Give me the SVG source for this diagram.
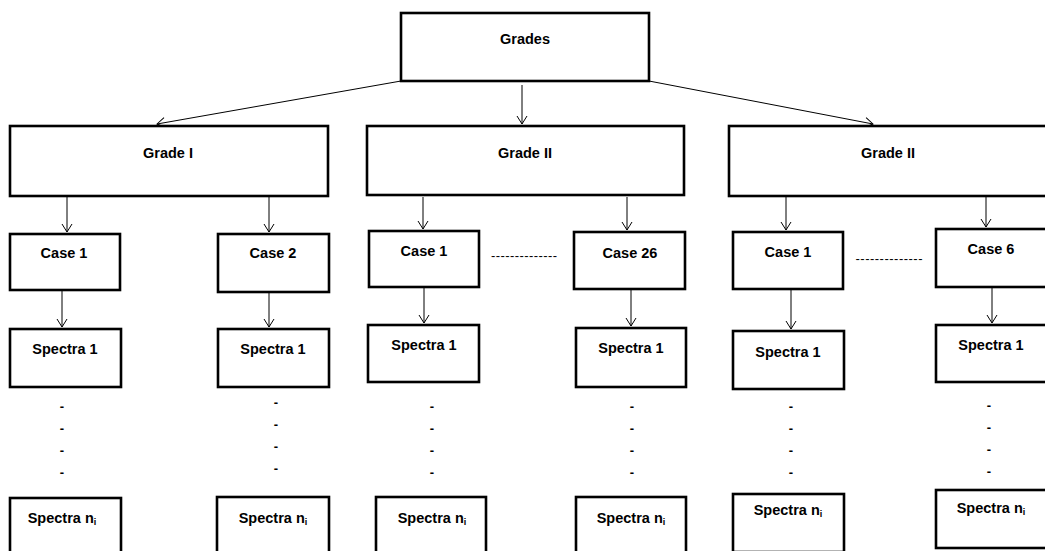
<svg xmlns="http://www.w3.org/2000/svg" width="1045" height="551" viewBox="0 0 1045 551">
<style>
.box{fill:#fff;stroke:#000;stroke-width:2.6}
.t{font-family:"Liberation Sans",Arial,sans-serif;font-weight:bold;font-size:14.5px;fill:#000;text-anchor:middle}
.sub{font-size:9px}
.d{font-family:"Liberation Sans",Arial,sans-serif;font-weight:bold;font-size:13px;fill:#000;text-anchor:middle}
.s{font-family:"Liberation Sans",Arial,sans-serif;font-size:13px;fill:#000;text-anchor:middle}
.c{fill:none;stroke:#000;stroke-width:1}
</style>
<defs>
<marker id="ah" viewBox="0 0 10 10" refX="10" refY="5" markerWidth="10" markerHeight="10" markerUnits="userSpaceOnUse" orient="auto" overflow="visible">
<path d="M2,0 L10,5 L2,10" fill="none" stroke="#000" stroke-width="1"/>
</marker>
</defs>
<rect width="1045" height="551" fill="#fff"/>
<g id="connectors">
<line class="c" x1="401" y1="81" x2="157" y2="124" marker-end="url(#ah)"/>
<line class="c" x1="522" y1="85" x2="522" y2="124" marker-end="url(#ah)"/>
<line class="c" x1="649" y1="81" x2="873" y2="124" marker-end="url(#ah)"/>
<line class="c" x1="67" y1="197" x2="67" y2="232" marker-end="url(#ah)"/>
<line class="c" x1="269" y1="197" x2="269" y2="232" marker-end="url(#ah)"/>
<line class="c" x1="423" y1="197" x2="423" y2="229" marker-end="url(#ah)"/>
<line class="c" x1="627" y1="197" x2="627" y2="230" marker-end="url(#ah)"/>
<line class="c" x1="786" y1="197" x2="786" y2="230" marker-end="url(#ah)"/>
<line class="c" x1="986" y1="197" x2="986" y2="227" marker-end="url(#ah)"/>
<line class="c" x1="62" y1="290" x2="62" y2="327" marker-end="url(#ah)"/>
<line class="c" x1="269" y1="292" x2="269" y2="327" marker-end="url(#ah)"/>
<line class="c" x1="424" y1="287" x2="424" y2="323" marker-end="url(#ah)"/>
<line class="c" x1="631" y1="289" x2="631" y2="326" marker-end="url(#ah)"/>
<line class="c" x1="791" y1="289" x2="791" y2="329" marker-end="url(#ah)"/>
<line class="c" x1="992" y1="287" x2="992" y2="323" marker-end="url(#ah)"/>
</g>
<g id="grades"><rect class="box" x="401" y="13" width="248" height="68"/><text class="t" x="525" y="44">Grades</text></g>
<g id="grade1"><rect class="box" x="10" y="126" width="318" height="70"/><text class="t" x="168" y="158">Grade I</text></g>
<g id="grade2a"><rect class="box" x="367" y="126" width="317" height="69"/><text class="t" x="525" y="158">Grade II</text></g>
<g id="grade2b"><rect class="box" x="729" y="126" width="320" height="70"/><text class="t" x="888" y="158">Grade II</text></g>

<g id="case1a"><rect class="box" x="10" y="234" width="110" height="56"/><text class="t" x="64" y="258">Case 1</text></g>
<g id="case2"><rect class="box" x="218" y="234" width="111" height="58"/><text class="t" x="273" y="258">Case 2</text></g>
<g id="case1b"><rect class="box" x="369" y="231" width="110" height="56"/><text class="t" x="424" y="256">Case 1</text></g>
<g id="case26"><rect class="box" x="574" y="232" width="111" height="57"/><text class="t" x="630" y="258">Case 26</text></g>
<g id="case1c"><rect class="box" x="733" y="232" width="110" height="57"/><text class="t" x="788" y="257">Case 1</text></g>
<g id="case6"><rect class="box" x="936" y="229" width="112" height="58"/><text class="t" x="991" y="254">Case 6</text></g>

<g id="sep1"><text class="s" x="524" y="260" textLength="66" lengthAdjust="spacing">--------------</text></g>
<g id="sep2"><text class="s" x="889" y="263" textLength="67" lengthAdjust="spacing">--------------</text></g>

<g id="spec1a"><rect class="box" x="10" y="329" width="111" height="58"/><text class="t" x="65" y="354">Spectra 1</text></g>
<g id="spec1b"><rect class="box" x="218" y="329" width="111" height="58"/><text class="t" x="273" y="354">Spectra 1</text></g>
<g id="spec1c"><rect class="box" x="368" y="325" width="111" height="57"/><text class="t" x="424" y="350">Spectra 1</text></g>
<g id="spec1d"><rect class="box" x="576" y="328" width="110" height="59"/><text class="t" x="631" y="353">Spectra 1</text></g>
<g id="spec1e"><rect class="box" x="733" y="331" width="111" height="58"/><text class="t" x="788" y="357">Spectra 1</text></g>
<g id="spec1f"><rect class="box" x="936" y="325" width="112" height="57"/><text class="t" x="991" y="350">Spectra 1</text></g>

<g id="dots">
<text class="d" x="62" y="411">-</text><text class="d" x="62" y="433">-</text><text class="d" x="62" y="455">-</text><text class="d" x="62" y="477">-</text>
<text class="d" x="276" y="407">-</text><text class="d" x="276" y="429">-</text><text class="d" x="276" y="451">-</text><text class="d" x="276" y="473">-</text>
<text class="d" x="432" y="411">-</text><text class="d" x="432" y="433">-</text><text class="d" x="432" y="455">-</text><text class="d" x="432" y="477">-</text>
<text class="d" x="632" y="411">-</text><text class="d" x="632" y="433">-</text><text class="d" x="632" y="455">-</text><text class="d" x="632" y="477">-</text>
<text class="d" x="791" y="411">-</text><text class="d" x="791" y="433">-</text><text class="d" x="791" y="455">-</text><text class="d" x="791" y="477">-</text>
<text class="d" x="989" y="410">-</text><text class="d" x="989" y="432">-</text><text class="d" x="989" y="454">-</text><text class="d" x="989" y="476">-</text>
</g>

<g id="specna"><rect class="box" x="10" y="498" width="111" height="60"/><text class="t" x="62" y="523">Spectra n<tspan class="sub" dy="2">i</tspan></text></g>
<g id="specnb"><rect class="box" x="217" y="497" width="112" height="60"/><text class="t" x="273" y="523">Spectra n<tspan class="sub" dy="2">i</tspan></text></g>
<g id="specnc"><rect class="box" x="376" y="497" width="110" height="60"/><text class="t" x="432" y="523">Spectra n<tspan class="sub" dy="2">i</tspan></text></g>
<g id="specnd"><rect class="box" x="576" y="497" width="110" height="60"/><text class="t" x="631" y="523">Spectra n<tspan class="sub" dy="2">i</tspan></text></g>
<g id="specne"><rect class="box" x="733" y="494" width="111" height="58"/><text class="t" x="788" y="515">Spectra n<tspan class="sub" dy="2">i</tspan></text></g>
<g id="specnf"><rect class="box" x="936" y="490" width="112" height="58"/><text class="t" x="991" y="513">Spectra n<tspan class="sub" dy="2">i</tspan></text></g>
</svg>
